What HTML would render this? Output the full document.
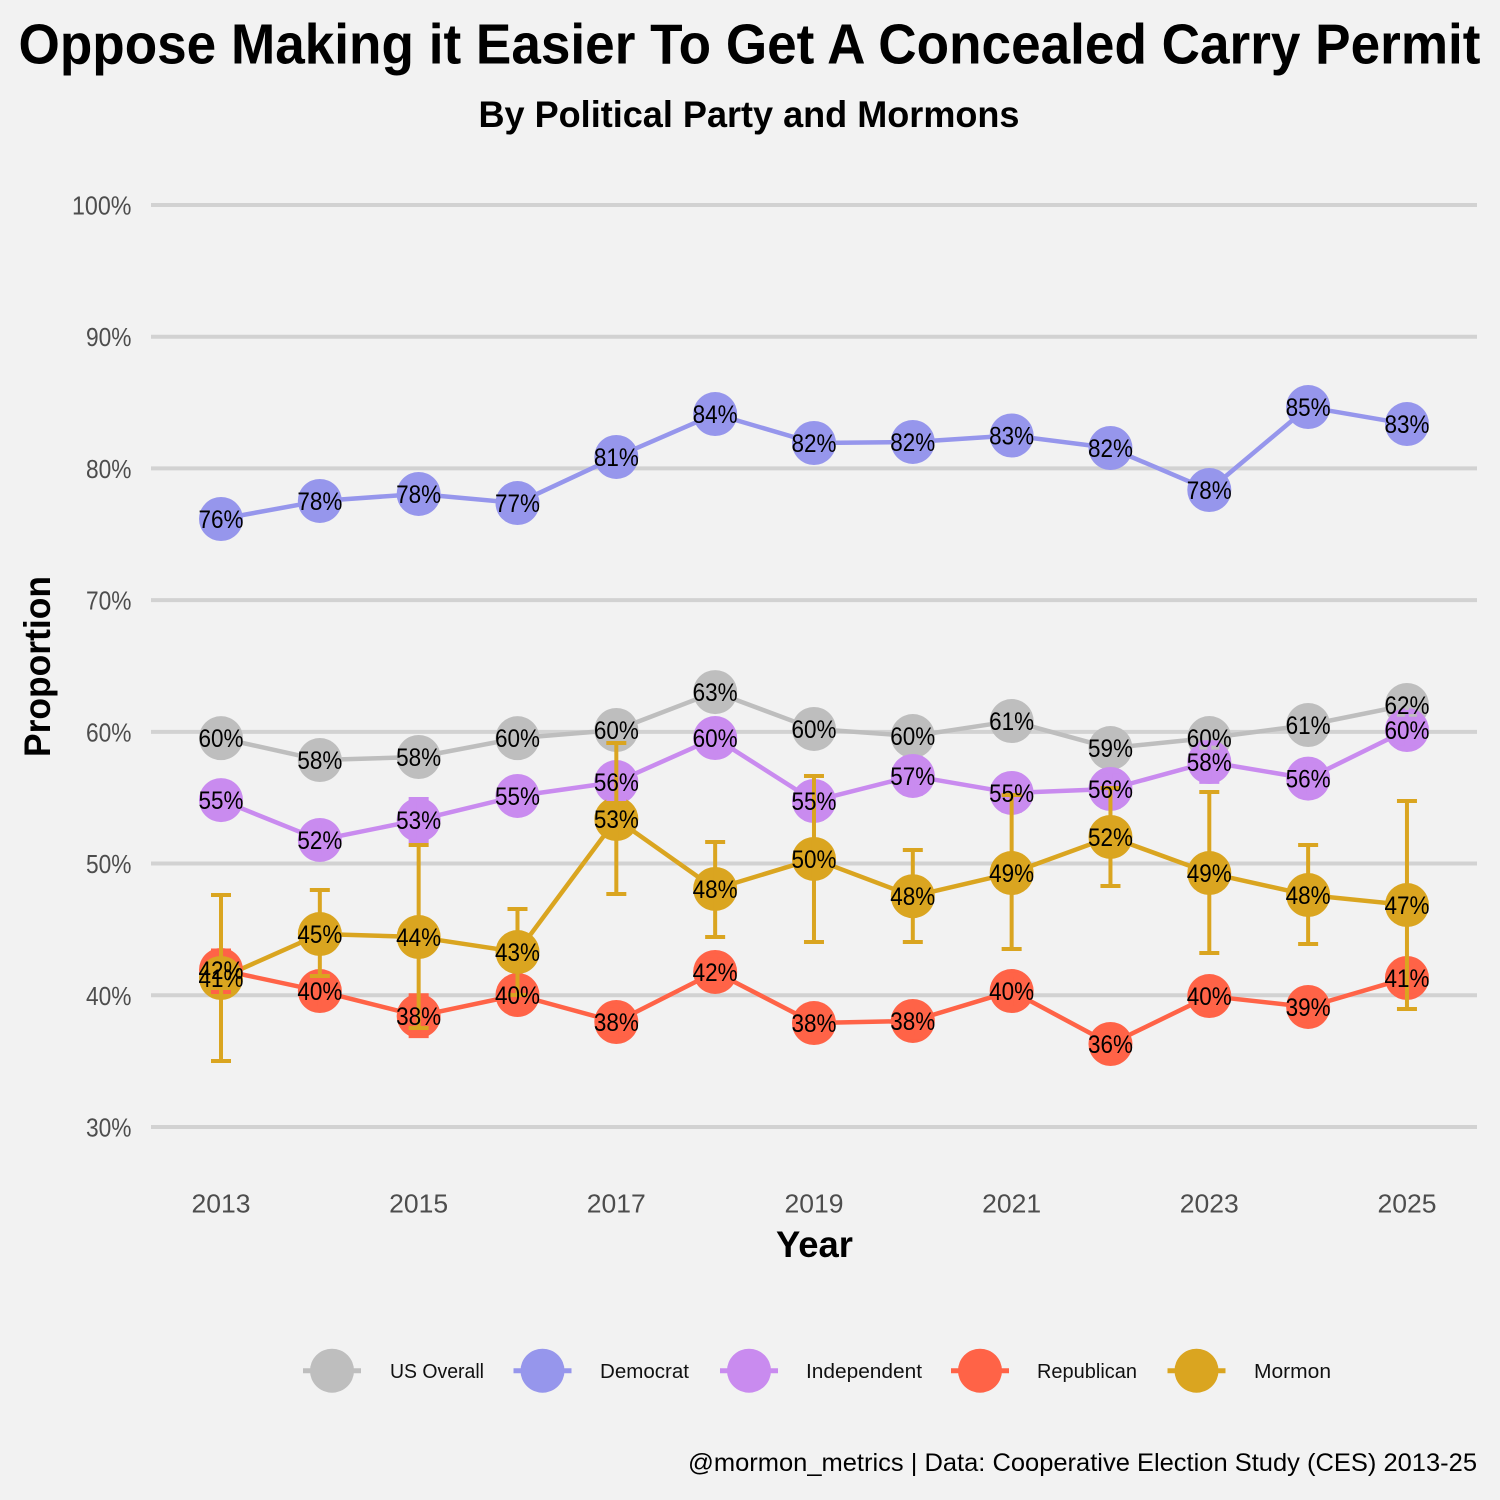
<!DOCTYPE html>
<html lang="en">
<head>
<meta charset="utf-8">
<title>Oppose Making it Easier To Get A Concealed Carry Permit</title>
<style>
html,body{margin:0;padding:0;background:#f2f2f2;}
svg{display:block;}
text{font-family:"Liberation Sans",sans-serif;}
</style>
</head>
<body>
<svg id="chart" xmlns="http://www.w3.org/2000/svg" width="1500" height="1500" viewBox="0 0 1500 1500">
  <rect x="0" y="0" width="1500" height="1500" fill="#f2f2f2"/>
  <text x="749.5" y="63.5" text-anchor="middle" font-size="57" font-weight="700" fill="#000" textLength="1462" lengthAdjust="spacingAndGlyphs">Oppose Making it Easier To Get A Concealed Carry Permit</text>
  <text x="749" y="127" text-anchor="middle" font-size="37" font-weight="700" fill="#000" textLength="541" lengthAdjust="spacingAndGlyphs">By Political Party and Mormons</text>
  <g id="grid"></g>
  <g id="y-ticks"></g>
  <g id="x-ticks"></g>
  <text transform="translate(50,666.5) rotate(-90)" text-anchor="middle" font-size="37" font-weight="700" fill="#000" textLength="181" lengthAdjust="spacingAndGlyphs">Proportion</text>
  <text x="814.5" y="1257" text-anchor="middle" font-size="37" font-weight="700" fill="#000" textLength="77" lengthAdjust="spacingAndGlyphs">Year</text>
  <g id="lines"></g>
  <g id="points"></g>
  <g id="errors"></g>
  <g id="labels"></g>
  <g id="legend"></g>
  <text x="1477" y="1471" text-anchor="end" font-size="25" fill="#000" textLength="789" lengthAdjust="spacingAndGlyphs">@mormon_metrics | Data: Cooperative Election Study (CES) 2013-25</text>
</svg>
<script>
const years = [2013,2014,2015,2016,2017,2018,2019,2020,2021,2022,2023,2024,2025];
const xTickYears = [2013,2015,2017,2019,2021,2023,2025];
const yTickValues = [30,40,50,60,70,80,90,100];

const usOverall = [59.52,57.86,58.09,59.52,60.14,63.02,60.22,59.68,60.82,58.77,59.53,60.52,62.04];
const usOverallLow = [58.8,57.1,57.3,58.8,59.4,62.3,59.5,59.0,60.1,58.0,58.8,59.8,61.3];
const usOverallHigh = [60.3,58.6,58.8,60.3,60.9,63.8,61.0,60.4,61.6,59.5,60.3,61.3,62.8];

const democrat = [76.16,77.53,78.06,77.37,80.87,84.13,81.93,82.01,82.5,81.55,78.36,84.66,83.37];
const democratLow = [75.0,76.3,76.9,76.2,79.7,83.0,80.8,80.9,81.4,80.4,77.2,83.5,82.2];
const democratHigh = [77.3,78.7,79.2,78.5,82.0,85.3,83.1,83.1,83.6,82.7,79.5,85.8,84.5];

const independent = [54.82,51.79,53.31,55.13,56.19,59.53,54.75,56.65,55.36,55.66,57.71,56.45,60.14];
const independentLow = [53.5,50.5,51.7,53.8,54.9,58.2,53.4,55.3,54.0,54.3,56.2,55.1,58.8];
const independentHigh = [56.1,53.1,54.9,56.4,57.5,60.8,56.1,58.0,56.7,57.0,59.2,57.8,61.5];

const republican = [41.92,40.32,38.43,40.02,37.97,41.77,37.89,38.05,40.32,36.3,39.94,39.11,41.31];
const republicanLow = [40.25,39.0,36.9,38.7,36.7,40.5,36.6,36.8,39.0,35.0,38.6,37.8,40.0];
const republicanHigh = [43.4,41.6,40.0,41.3,39.2,43.0,39.2,39.3,41.6,37.6,41.2,40.4,42.6];

const mormon = [41.31,44.65,44.42,43.28,53.38,48.07,50.35,47.52,49.28,52.02,49.28,47.61,46.85];
const mormonLow = [35.01,41.46,37.51,40.02,47.69,44.42,44.04,44.04,43.51,48.3,43.21,43.89,38.96];
const mormonHigh = [47.61,47.99,51.41,46.55,59.15,51.64,56.65,51.03,55.2,55.74,55.43,51.41,54.75];

const seriesNames = ["US Overall","Democrat","Independent","Republican","Mormon"];
const seriesValues = [usOverall,democrat,independent,republican,mormon];
const seriesLows = [usOverallLow,democratLow,independentLow,republicanLow,mormonLow];
const seriesHighs = [usOverallHigh,democratHigh,independentHigh,republicanHigh,mormonHigh];
const seriesColors = ["#bebebe","#9696ec","#c98bef","#ff6347","#daa520"];

const legendCenters = [332,542.5,749,980,1196.5];
const legendTextX = [390,600,806,1037,1254];
const legendTextW = [94,89,116,100,77];

const NS = "http://www.w3.org/2000/svg";
function xScale(year){ return 221 + (year - 2013) * 98.83; }
function yScale(v){ return 205 + (100 - v) * 13.171; }
function slug(s){ return s.toLowerCase().replace(/\s+/g,"-"); }
function make(tag, attrs, parent){
  const el = document.createElementNS(NS, tag);
  for (const k in attrs) el.setAttribute(k, attrs[k]);
  parent.appendChild(el);
  return el;
}
const gGrid = document.getElementById("grid");
const gYT = document.getElementById("y-ticks");
const gXT = document.getElementById("x-ticks");
const gLines = document.getElementById("lines");
const gPoints = document.getElementById("points");
const gErrors = document.getElementById("errors");
const gLabels = document.getElementById("labels");
const gLegend = document.getElementById("legend");

yTickValues.forEach(function(v){
  const py = yScale(v);
  const g = make("line",{x1:151,x2:1477,y1:py,y2:py,stroke:"#d2d2d2","stroke-width":4},gGrid);
  
  
  const t = make("text",{x:131.5,y:py+9.5,"text-anchor":"end","font-size":25.5,fill:"#4d4d4d",textLength:(v===100?59.5:45.5),lengthAdjust:"spacingAndGlyphs"},gYT);
  t.textContent = v + "%";
  
  
});

xTickYears.forEach(function(yr){
  const t = make("text",{x:xScale(yr),y:1212.5,"text-anchor":"middle","font-size":26,fill:"#4d4d4d",textLength:59,lengthAdjust:"spacingAndGlyphs"},gXT);
  t.textContent = String(yr);
  
  
});

seriesNames.forEach(function(name,s){
  const vals = seriesValues[s];
  const color = seriesColors[s];
  const pts = vals.map(function(v,i){ return xScale(years[i]) + "," + yScale(v); }).join(" ");
  const line = make("polyline",{points:pts,fill:"none",stroke:color,"stroke-width":4.5,"stroke-linejoin":"round"},gLines);
  
  
});

seriesNames.forEach(function(name,s){
  seriesValues[s].forEach(function(v,i){
    const c = make("circle",{cx:xScale(years[i]),cy:yScale(v),r:22,fill:seriesColors[s]},gPoints);
    
    
  });
});

seriesNames.forEach(function(name,s){
  const color = seriesColors[s];
  seriesLows[s].forEach(function(lo,i){
    const hi = seriesHighs[s][i];
    const px = xScale(years[i]);
    const yLo = yScale(lo);
    const yHi = yScale(hi);
    const d = "M"+px+" "+yHi+"V"+yLo+"M"+(px-10)+" "+yHi+"H"+(px+10)+"M"+(px-10)+" "+yLo+"H"+(px+10);
    const e = make("path",{d:d,fill:"none",stroke:color,"stroke-width":4},gErrors);
    
    
  });
});

seriesNames.forEach(function(name,s){
  seriesValues[s].forEach(function(v,i){
    const t = make("text",{x:xScale(years[i]),y:yScale(v)+9,"text-anchor":"middle","font-size":25,fill:"#000",textLength:45,lengthAdjust:"spacingAndGlyphs"},gLabels);
    t.textContent = Math.round(v) + "%";
    
    
  });
});

seriesNames.forEach(function(name,s){
  const cx = legendCenters[s];
  const g = make("g",{},gLegend);
  
  
  const l = make("line",{x1:cx-29,x2:cx+29,y1:1370.7,y2:1370.7,stroke:seriesColors[s],"stroke-width":5},g);
  
  
  const c = make("circle",{cx:cx,cy:1370.7,r:22,fill:seriesColors[s]},g);
  
  
  const t = make("text",{x:legendTextX[s],y:1378,"font-size":20,fill:"#111",textLength:legendTextW[s],lengthAdjust:"spacingAndGlyphs"},g);
  t.textContent = name;
  
  
});
</script>
</body>
</html>
